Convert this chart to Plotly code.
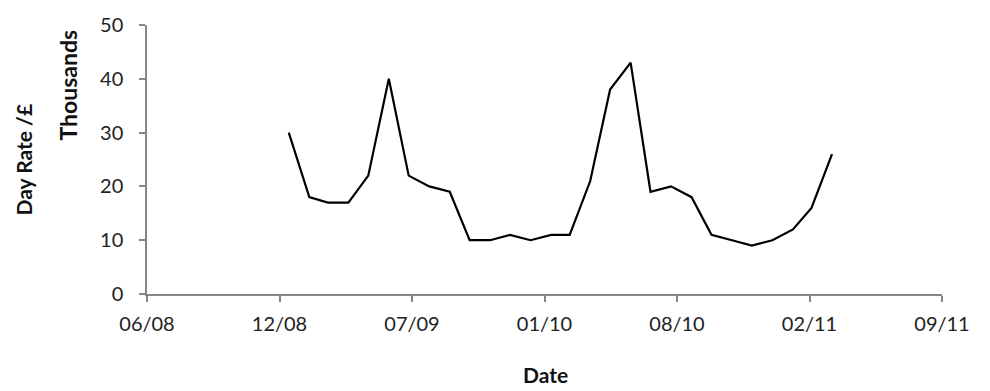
import plotly.graph_objects as go

# Data: monthly day rates (thousands of GBP)
months = ["2009-01-01", "2009-02-01", "2009-03-01", "2009-04-01", "2009-05-01", "2009-06-01",
          "2009-07-01", "2009-08-01", "2009-09-01", "2009-10-01", "2009-11-01", "2009-12-01",
          "2010-01-01", "2010-02-01", "2010-03-01", "2010-04-01", "2010-05-01", "2010-06-01",
          "2010-07-01", "2010-08-01", "2010-09-01", "2010-10-01", "2010-11-01", "2010-12-01",
          "2011-01-01", "2011-02-01", "2011-03-01", "2011-04-01"]
day_rate = [30, 18, 17, 17, 22, 40, 22, 20, 19, 10, 10, 11, 10, 11, 11, 21, 38, 43,
            19, 20, 18, 11, 10, 9, 10, 12, 16, 26]

tick_dates = ["2008-06-01", "2008-12-18", "2009-07-06", "2010-01-22", "2010-08-10",
              "2011-02-26", "2011-09-14"]
tick_labels = ["06/08", "12/08", "07/09", "01/10", "08/10", "02/11", "09/11"]
y_ticks = [0, 10, 20, 30, 40, 50]

FONT = "Lato"
AXIS_COLOR = "#868686"

fig = go.Figure()
fig.add_trace(go.Scatter(x=months, y=day_rate, mode="lines",
                         line=dict(color="black", width=2.2), showlegend=False))

fig.update_layout(
    width=990, height=391,
    margin=dict(l=147, r=48, t=14, b=97),
    paper_bgcolor="white", plot_bgcolor="white",
    font=dict(family=FONT, size=20, color="#222222"),
    xaxis=dict(type="date", range=[tick_dates[0], tick_dates[-1]],
               tickvals=tick_dates, ticktext=tick_labels,
               showgrid=False, zeroline=False,
               showline=True, linecolor=AXIS_COLOR, linewidth=1.5,
               ticks="outside", ticklen=6, tickcolor=AXIS_COLOR, tickwidth=1.5,
               ticklabelstandoff=5),
    yaxis=dict(range=[0, 50], tickvals=y_ticks,
               showgrid=False, zeroline=False,
               showline=True, linecolor=AXIS_COLOR, linewidth=1.5,
               ticks="outside", ticklen=6, tickcolor=AXIS_COLOR, tickwidth=1.5,
               ticklabelstandoff=12),
)

# Axis titles placed in pixel terms converted to paper coords
pw = 990 - 147 - 48
ph = 391 - 14 - 97
def px_to_paper(px, py):
    return (px - 147) / pw, (391 - 97 - py) / ph

titles = [("<b>Date</b>", 0, 545, 378, 21), ("<b>Day Rate /£</b>", -90, 23, 154, 21),
          ("<b>Thousands</b>", -90, 68, 77, 23)]
for text, ang, px, py, size in titles:
    xp, yp = px_to_paper(px, py)
    fig.add_annotation(text=text, textangle=ang, x=xp, y=yp, xref="paper", yref="paper",
                       xanchor="center", yanchor="middle", showarrow=False,
                       font=dict(size=size, family=FONT, color="#111111"))

fig.write_html("out.html")
